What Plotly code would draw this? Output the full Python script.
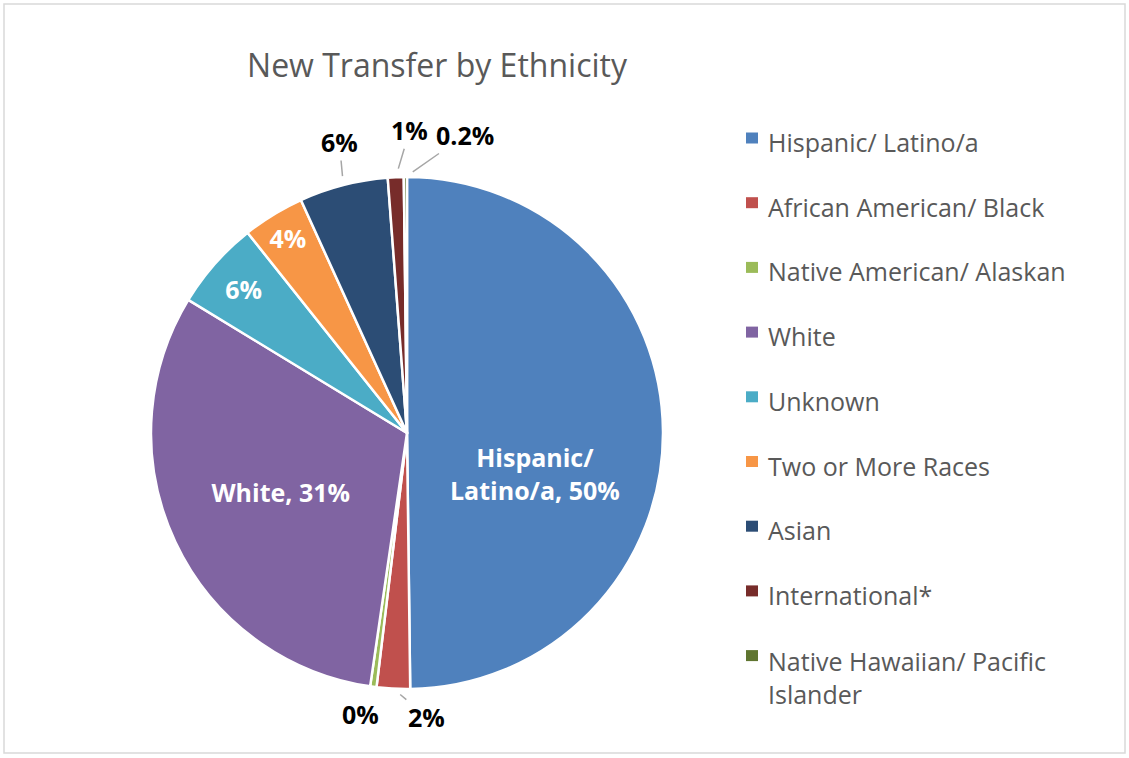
import math
import plotly.graph_objects as go

W, H = 1129, 758

labels = [
    "Hispanic/ Latino/a",
    "African American/ Black",
    "Native American/ Alaskan",
    "White",
    "Unknown",
    "Two or More Races",
    "Asian",
    "International*",
    "Native Hawaiian/ Pacific Islander",
]
values = [49.8, 2.1, 0.4, 31.4, 5.6, 3.9, 5.6, 1.0, 0.2]
pct_text = ["50%", "2%", "0%", "31%", "6%", "4%", "6%", "1%", "0.2%"]
colors = ["#4F81BD", "#C0504D", "#9BBB59", "#8064A2", "#4BACC6",
          "#F79646", "#2C4D75", "#772C2A", "#5F7530"]

# labels drawn by the pie itself
inside_text = {
    3: "White, 31%",
    4: "6%",
    5: "4%",
}
# Hispanic label sits lower than plotly's default spot
hisp_text = "<b>Hispanic/<br>Latino/a, 50%</b>"

# outside labels: offset of text from slice edge (px), leader line or not
outside = {
    1: (33, 28, True),
    2: (-13, 27, False),
    6: (-4, -43, True),
    7: (14, -47, True),
    8: (60, -42, True),
}

cx, cy, r = 407, 433, 256
font = "Open Sans"

texts = [inside_text.get(i, "") for i in range(len(labels))]

fig = go.Figure(
    go.Pie(
        labels=labels,
        values=values,
        text=texts,
        textinfo="text",
        textposition="inside",
        insidetextorientation="horizontal",
        insidetextfont=dict(family=font, size=25, color="white", weight="bold"),
        sort=False,
        direction="clockwise",
        rotation=0,
        marker=dict(colors=colors, line=dict(color="white", width=2.5)),
        domain=dict(x=[(cx - r) / W, (cx + r) / W],
                    y=[1 - (cy + r) / H, 1 - (cy - r) / H]),
        showlegend=False,
        hoverinfo="label+percent",
    )
)

total = sum(values)
cum = 0
annotations = []
for i, v in enumerate(values):
    mid = (cum + v / 2) / total * 2 * math.pi
    cum += v
    if i == 0:
        px = cx + 0.5 * r * math.sin(mid)
        py = cy - 0.5 * r * math.cos(mid)
        annotations.append(dict(
            x=px / W, y=1 - py / H, xref="paper", yref="paper",
            xanchor="center", yanchor="middle", showarrow=False,
            text=hisp_text, yshift=-41,
            font=dict(family=font, size=25, color="white"),
        ))
        continue
    if i not in outside:
        continue
    px = cx + r * math.sin(mid)
    py = cy - r * math.cos(mid)
    ax, ay, line = outside[i]
    if line:
        annotations.append(dict(
            x=px / W, y=1 - py / H, xref="paper", yref="paper",
            text="<b>%s</b>" % pct_text[i], showarrow=True, ax=ax, ay=ay,
            arrowhead=0, arrowwidth=1.5, arrowcolor="#A6A6A6", standoff=9,
            font=dict(family=font, size=25, color="black"),
        ))
    else:
        annotations.append(dict(
            x=px / W, y=1 - py / H, xref="paper", yref="paper",
            xanchor="center", yanchor="middle",
            text="<b>%s</b>" % pct_text[i], showarrow=False,
            xshift=ax, yshift=-ay,
            font=dict(family=font, size=25, color="black"),
        ))

# legend drawn by hand to match the spacing
leg_x, leg_y0, leg_dy = 768, 138, 64.7
shapes = []
for i, lab in enumerate(labels):
    y = leg_y0 + i * leg_dy
    txt = lab.replace("Pacific Islander", "Pacific<br>Islander")
    yy = y + 4 if "<br>" not in txt else y + 22
    annotations.append(dict(
        x=(leg_x - 2) / W, y=1 - yy / H, xref="paper", yref="paper",
        xanchor="left", yanchor="middle", align="left", showarrow=False,
        text=txt, font=dict(family=font, size=25, color="#595959"),
    ))
    shapes.append(dict(
        type="rect", xref="paper", yref="paper",
        x0=(leg_x - 22) / W, x1=(leg_x - 10) / W,
        y0=1 - (y + 5.5) / H, y1=1 - (y - 5.5) / H,
        fillcolor=colors[i], line=dict(width=0),
    ))

# chart border
shapes.append(dict(type="rect", xref="paper", yref="paper",
                   x0=4 / W, x1=1 - 4 / W, y0=5 / H, y1=1 - 4 / H,
                   line=dict(color="#D9D9D9", width=1.5)))

fig.update_layout(
    width=W, height=H,
    margin=dict(l=0, r=0, t=0, b=0),
    paper_bgcolor="white",
    title=dict(text="New Transfer by Ethnicity", x=437 / W, xanchor="center",
               y=1 - 66 / H, yanchor="middle",
               font=dict(family=font, size=32, color="#595959")),
    annotations=annotations,
    shapes=shapes,
)

# drop the default page margin so the figure sits at the window corner
fig.write_html("out.html", config={"displayModeBar": False},
               post_script="document.body.style.margin='0';")
